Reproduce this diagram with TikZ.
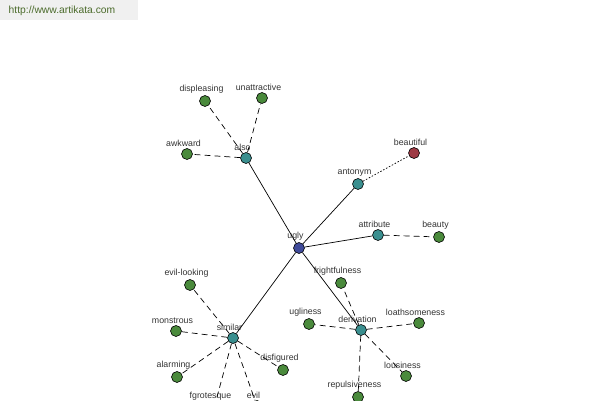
\documentclass[tikz,border=0pt]{standalone}
\usepackage{fontspec}
\setmainfont{Liberation Sans}
\definecolor{rootblue}{HTML}{3F4A99}
\definecolor{relteal}{HTML}{3A8F8F}
\definecolor{leafgreen}{HTML}{4A8A3C}
\definecolor{antired}{HTML}{9E3A44}
\definecolor{labelgray}{HTML}{333333}
\definecolor{urlgreen}{HTML}{4B6B2B}
\tikzset{
	word/.style={circle, draw=black, line width=0.5pt, minimum size=0.33cm, inner sep=0pt},
	rootword/.style={word, fill=rootblue},
	relword/.style={word, fill=relteal},
	leafword/.style={word, fill=leafgreen},
	antiword/.style={word, fill=antired},
	every label/.style={font=\fontsize{7.5}{8}\selectfont, text=labelgray, inner sep=1pt, xshift=-3pt},
	link/.style={line width=0.6pt, black},
	syn/.style={link, dash pattern=on 5pt off 3.5pt},
	opp/.style={link, dash pattern=on 1.3pt off 1.5pt}
}

\begin{document}
\begin{tikzpicture}[x=0.03cm, y=-0.03cm]
	\useasboundingbox (0,0) rectangle (600,400);
	\clip (0,0) rectangle (600,400);

	%site banner
	\fill[gray!12] (0,0) rectangle (138,20);
	\node[text=urlgreen, font=\fontsize{8.8}{10}\selectfont] (site) at (62,11) {http://www.artikata.com};

	%centre word and relation nodes
	\node[rootword, label=above:ugly] (ugly) at (299,248) {};
	\node[relword, label=above:also] (also) at (246,158) {};
	\node[relword, label=above:antonym] (antonym) at (358,184) {};
	\node[relword, label=above:attribute] (attribute) at (378,235) {};
	\node[relword, label=above:derivation] (derivation) at (361,330) {};
	\node[relword, label=above:similar] (similar) at (233,338) {};

	%leaf words
	\node[leafword, label=above:displeasing] (displeasing) at (205,101) {};
	\node[leafword, label=above:unattractive] (unattractive) at (262,98) {};
	\node[leafword, label=above:awkward] (awkward) at (187,154) {};
	\node[antiword, label=above:beautiful] (beautiful) at (414,153) {};
	\node[leafword, label=above:beauty] (beauty) at (439,237) {};
	\node[leafword, label=above:frightfulness] (frightfulness) at (341,283) {};
	\node[leafword, label=above:ugliness] (ugliness) at (309,324) {};
	\node[leafword, label=above:loathsomeness] (loathsomeness) at (419,323) {};
	\node[leafword, label=above:lousiness] (lousiness) at (406,376) {};
	\node[leafword, label=above:repulsiveness] (repulsiveness) at (358,397) {};
	\node[leafword, label=above:evil-looking] (evillooking) at (190,285) {};
	\node[leafword, label=above:monstrous] (monstrous) at (176,331) {};
	\node[leafword, label=above:alarming] (alarming) at (177,377) {};
	\node[leafword, label=above:fgrotesque] (fgrotesque) at (214,408) {};
	\node[leafword, label=above:evil] (evil) at (257,406) {};
	\node[leafword, label=above:disfigured] (disfigured) at (283,370) {};

	%relations from the centre word
	\foreach \r in {also, antonym, attribute, derivation, similar}
		\draw[link] (ugly) -- (\r);

	%dashed links to leaf words
	\foreach \w in {displeasing, unattractive, awkward}
		\draw[syn] (also) -- (\w);
	\draw[opp] (antonym) -- (beautiful);
	\draw[syn] (attribute) -- (beauty);
	\foreach \w in {frightfulness, ugliness, loathsomeness, lousiness, repulsiveness}
		\draw[syn] (derivation) -- (\w);
	\foreach \w in {evillooking, monstrous, alarming, fgrotesque, evil, disfigured}
		\draw[syn] (similar) -- (\w);

\end{tikzpicture}
\end{document}
